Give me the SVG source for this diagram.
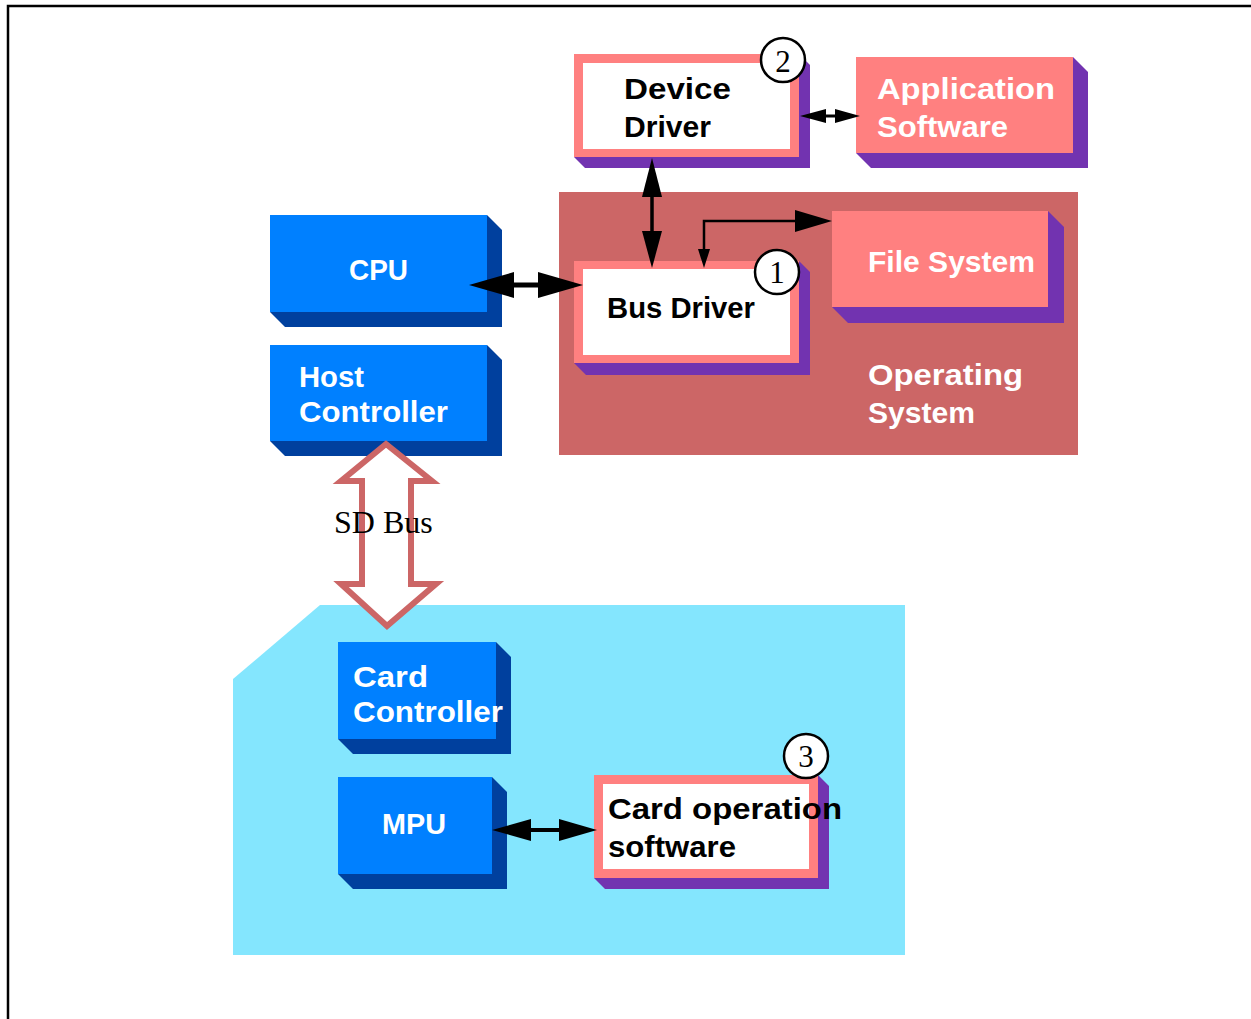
<svg xmlns="http://www.w3.org/2000/svg" width="1251" height="1019" viewBox="0 0 1251 1019">
  <style>
    .blue { fill: #0080FF; }
    .blue-shade { fill: #00409E; }
    .pink { fill: #FF8080; }
    .purple { fill: #7233B0; }
    .inner { fill: #FFFFFF; }
    .os { fill: #CC6666; }
    .card { fill: #84E6FE; }
    .lbl { font-family: "Liberation Sans", Arial, sans-serif; font-weight: bold; font-size: 30px; }
    .w { fill: #FFFFFF; }
    .k { fill: #000000; }
    .badge { fill: #FFFFFF; stroke: #000000; stroke-width: 2.5; }
    .num { font-family: "Liberation Serif", "Times New Roman", serif; font-size: 31px; text-anchor: middle; fill: #000000; }
    .head { fill: #000000; }
    .shaft { stroke: #000000; fill: none; }
    .bus { fill: #FFFFFF; stroke: #CC6666; stroke-width: 6; stroke-linejoin: miter; stroke-miterlimit: 10; }
    .buslbl { font-family: "Liberation Serif", "Times New Roman", serif; font-size: 32px; fill: #000000; }
    .frame { stroke: #000000; stroke-width: 2.5; fill: none; }
  </style>

  <rect width="1251" height="1019" fill="#FFFFFF"/>

  <!-- page frame -->
  <path class="frame" d="M8,1019 V6 H1251"/>

  <!-- background regions -->
  <g id="operating-system">
    <rect class="os" x="559" y="192" width="519" height="263"/>
    <text class="lbl w" x="868" y="385" textLength="155" lengthAdjust="spacingAndGlyphs">Operating</text>
    <text class="lbl w" x="868" y="423" textLength="107" lengthAdjust="spacingAndGlyphs">System</text>
  </g>
  <g id="sd-card">
    <polygon class="card" points="233,679 320,605 905,605 905,955 233,955"/>
  </g>

  <!-- host side -->
  <g id="cpu">
    <polygon class="blue-shade" points="487,215 502,230 502,327 285,327 270,312"/>
    <rect class="blue" x="270" y="215" width="217" height="97"/>
    <text class="lbl w" x="349" y="280" textLength="59" lengthAdjust="spacingAndGlyphs">CPU</text>
  </g>
  <g id="host-controller">
    <polygon class="blue-shade" points="487,345 502,360 502,456 285,456 270,441"/>
    <rect class="blue" x="270" y="345" width="217" height="96"/>
    <text class="lbl w" x="299" y="387" textLength="65" lengthAdjust="spacingAndGlyphs">Host</text>
    <text class="lbl w" x="299" y="422" textLength="149" lengthAdjust="spacingAndGlyphs">Controller</text>
  </g>

  <g id="device-driver">
    <polygon class="purple" points="799,54 810,65 810,168 585,168 574,157"/>
    <rect class="pink" x="574" y="54" width="225" height="103"/>
    <rect class="inner" x="583" y="63" width="207" height="86"/>
    <text class="lbl k" x="624" y="99" textLength="107" lengthAdjust="spacingAndGlyphs">Device</text>
    <text class="lbl k" x="624" y="137" textLength="87" lengthAdjust="spacingAndGlyphs">Driver</text>
    <circle class="badge" cx="783" cy="60" r="22"/>
    <text class="num" x="783" y="72">2</text>
  </g>

  <g id="application-software">
    <polygon class="purple" points="1073,57 1088,72 1088,168 871,168 856,153"/>
    <rect class="pink" x="856" y="57" width="217" height="96"/>
    <text class="lbl w" x="877" y="99" textLength="178" lengthAdjust="spacingAndGlyphs">Application</text>
    <text class="lbl w" x="877" y="137" textLength="131" lengthAdjust="spacingAndGlyphs">Software</text>
  </g>

  <g id="bus-driver">
    <polygon class="purple" points="799,261 810,272 810,375 586,375 574,363"/>
    <rect class="pink" x="574" y="261" width="225" height="102"/>
    <rect class="inner" x="583" y="269" width="207" height="86"/>
    <text class="lbl k" x="607" y="318" textLength="148" lengthAdjust="spacingAndGlyphs">Bus Driver</text>
    <circle class="badge" cx="777" cy="272" r="22"/>
    <text class="num" x="777" y="283">1</text>
  </g>

  <g id="file-system">
    <polygon class="purple" points="1048,211 1064,227 1064,323 848,323 832,307"/>
    <rect class="pink" x="832" y="211" width="216" height="96"/>
    <text class="lbl w" x="868" y="272" textLength="167" lengthAdjust="spacingAndGlyphs">File System</text>
  </g>

  <!-- card side -->
  <g id="card-controller">
    <polygon class="blue-shade" points="496,642 511,657 511,754 353,754 338,739"/>
    <rect class="blue" x="338" y="642" width="158" height="97"/>
    <text class="lbl w" x="353" y="687" textLength="75" lengthAdjust="spacingAndGlyphs">Card</text>
    <text class="lbl w" x="353" y="722" textLength="150" lengthAdjust="spacingAndGlyphs">Controller</text>
  </g>

  <g id="mpu">
    <polygon class="blue-shade" points="492,777 507,792 507,889 353,889 338,874"/>
    <rect class="blue" x="338" y="777" width="154" height="97"/>
    <text class="lbl w" x="382" y="834" textLength="64" lengthAdjust="spacingAndGlyphs">MPU</text>
  </g>

  <g id="card-operation-software">
    <polygon class="purple" points="818,775 829,786 829,889 605,889 594,878"/>
    <rect class="pink" x="594" y="775" width="224" height="103"/>
    <rect class="inner" x="603" y="784" width="206" height="85"/>
    <text class="lbl k" x="608" y="819" textLength="234" lengthAdjust="spacingAndGlyphs">Card operation</text>
    <text class="lbl k" x="608" y="857" textLength="128" lengthAdjust="spacingAndGlyphs">software</text>
    <circle class="badge" cx="806" cy="756" r="22"/>
    <text class="num" x="806" y="767">3</text>
  </g>

  <!-- connectors -->
  <g id="connectors">
    <!-- device driver <-> bus driver -->
    <line class="shaft" x1="652" y1="190" x2="652" y2="236" stroke-width="3.5"/>
    <polygon class="head" points="652,158 642,197 662,197"/>
    <polygon class="head" points="652,268 642,231 662,231"/>

    <!-- bus driver -> file system -->
    <polyline class="shaft" points="704,252 704,221 800,221" stroke-width="2.5"/>
    <polygon class="head" points="704,268 698,249 710,249"/>
    <polygon class="head" points="832,221 795,210 795,232"/>

    <!-- CPU <-> bus driver -->
    <line class="shaft" x1="505" y1="285" x2="545" y2="285" stroke-width="5"/>
    <polygon class="head" points="469,285 514,272 514,298"/>
    <polygon class="head" points="583,285 538,272 538,298"/>

    <!-- device driver <-> application software -->
    <line class="shaft" x1="815" y1="116" x2="845" y2="116" stroke-width="3"/>
    <polygon class="head" points="800,116 826,109 826,123"/>
    <polygon class="head" points="860,116 835,109 835,123"/>

    <!-- MPU <-> card operation software -->
    <line class="shaft" x1="525" y1="830" x2="565" y2="830" stroke-width="4"/>
    <polygon class="head" points="492,830 531,819 531,841"/>
    <polygon class="head" points="597,830 559,819 559,841"/>

    <!-- SD bus -->
    <polygon class="bus" points="386,444 341,481 362,481 362,584 341,584 387,626 436,584 411,584 411,481 432,481"/>
    <text class="buslbl" x="334" y="533">SD Bus</text>
  </g>
</svg>
